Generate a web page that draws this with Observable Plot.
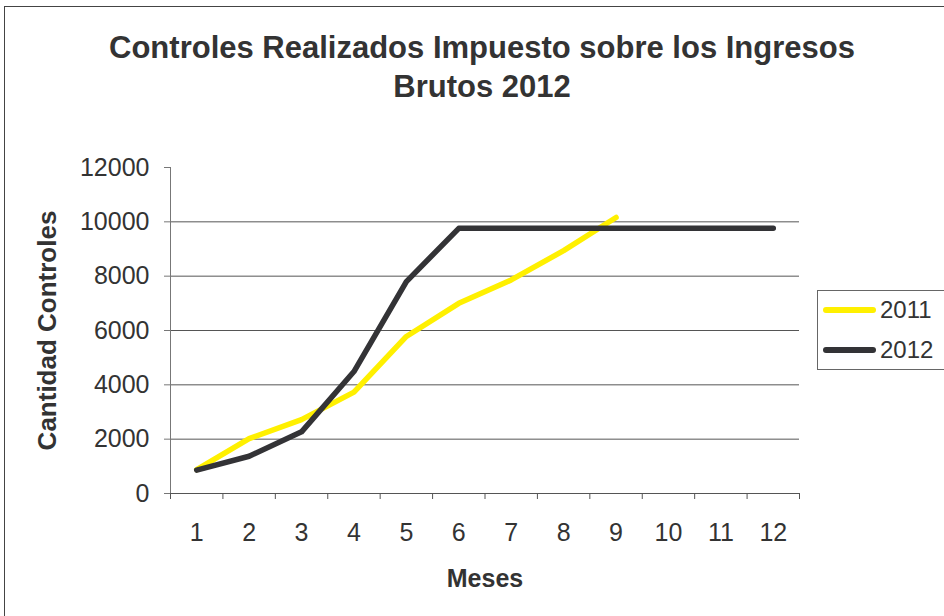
<!DOCTYPE html>
<html>
<head>
<meta charset="utf-8">
<script src="https://cdn.jsdelivr.net/npm/d3@7"></script>
<script src="https://cdn.jsdelivr.net/npm/@observablehq/plot@0.6"></script>
<style>
  html, body { margin: 0; padding: 0; background: #fff; }
  #wrap { position: relative; width: 944px; height: 616px; overflow: hidden; font-family: "Liberation Sans", Arial, sans-serif; }
  #frame { position: absolute; left: 4px; top: 6px; width: 960px; height: 640px; border: 1px solid #444; box-sizing: border-box; }
  #title { position: absolute; left: 0; top: 28px; width: 964px; text-align: center; font-weight: bold; font-size: 31px; line-height: 39px; color: #333; }
  #legend { position: absolute; left: 817px; top: 290px; width: 140px; height: 80px; border: 1px solid #666; box-sizing: border-box; }
  .item { position: absolute; left: 5px; height: 24px; display: flex; align-items: center; font-size: 24px; color: #333; }
  .swatch { width: 53px; height: 6px; border-radius: 3px; margin-right: 4px; }
  #chart { position: absolute; left: 0; top: 0; }
</style>
</head>
<body>
<div id="wrap">
  <div id="frame"></div>
  <div id="chart"></div>
  <div id="title">Controles Realizados Impuesto sobre los Ingresos<br>Brutos 2012</div>
  <div id="legend"></div>
</div>
<script>
const months = [1, 2, 3, 4, 5, 6, 7, 8, 9, 10, 11, 12];
const series = ["2011", "2012"];
const values2011 = [880, 2020, 2720, 3730, 5780, 7000, 7860, 8940, 10160];
const values2012 = [860, 1370, 2270, 4490, 7800, 9760, 9760, 9760, 9760, 9760, 9760, 9760];
const colors = ["#FFF000", "#333336"];
const yTicks = [0, 2000, 4000, 6000, 8000, 10000, 12000];
const gridTicks = [2000, 4000, 6000, 8000, 10000];
const bandEdges = [0.5, 1.5, 2.5, 3.5, 4.5, 5.5, 6.5, 7.5, 8.5, 9.5, 10.5, 11.5, 12.5];
const yTitle = "Cantidad Controles";
const xTitle = "Meses";

const rows = [];
values2011.forEach((v, i) => rows.push({mes: months[i], valor: v, serie: series[0]}));
values2012.forEach((v, i) => rows.push({mes: months[i], valor: v, serie: series[1]}));

const plot = Plot.plot({
  width: 944,
  height: 616,
  marginLeft: 170,
  marginRight: 145,
  marginTop: 167,
  marginBottom: 123,
  style: {fontFamily: "'Liberation Sans', Arial, sans-serif", background: "transparent", color: "#333"},
  x: {type: "linear", domain: [0.5, 12.5]},
  y: {domain: [0, 12000]},
  color: {domain: series, range: colors},
  marks: [
    Plot.ruleY(gridTicks, {stroke: "#555", strokeWidth: 1}),
    Plot.axisY({ticks: yTicks, tickSize: 6, tickPadding: 15, fontSize: 25, tickFormat: d => String(d), label: null, stroke: "#777"}),
    Plot.ruleX([0.5], {y1: 0, y2: 12000, stroke: "#777"}),
    Plot.axisX({ticks: bandEdges, tickSize: 6, tickFormat: () => "", label: null, stroke: "#555"}),
    Plot.axisX({ticks: months, tickSize: 0, tickPadding: 30, fontSize: 25, tickFormat: d => String(d), label: null}),
    Plot.ruleY([0], {stroke: "#555"}),
    Plot.line(rows, {x: "mes", y: "valor", z: "serie", stroke: "serie", strokeWidth: 5.5, strokeLinecap: "round", strokeLinejoin: "round"}),
    Plot.text([yTitle], {frameAnchor: "left", dx: -123, rotate: -90, textAnchor: "middle", lineAnchor: "middle", fontSize: 26, fontWeight: "bold", fill: "#333"}),
    Plot.text([xTitle], {frameAnchor: "bottom", dy: 85, textAnchor: "middle", lineAnchor: "middle", fontSize: 25, fontWeight: "bold", fill: "#333"})
  ]
});
document.getElementById("chart").appendChild(plot);

const legend = document.getElementById("legend");
series.forEach((s, i) => {
  const item = document.createElement("div");
  item.className = "item";
  item.style.top = (7 + i * 40) + "px";
  const sw = document.createElement("div");
  sw.className = "swatch";
  sw.style.background = colors[i];
  item.appendChild(sw);
  item.appendChild(document.createTextNode(s));
  legend.appendChild(item);
});
</script>
</body>
</html>
